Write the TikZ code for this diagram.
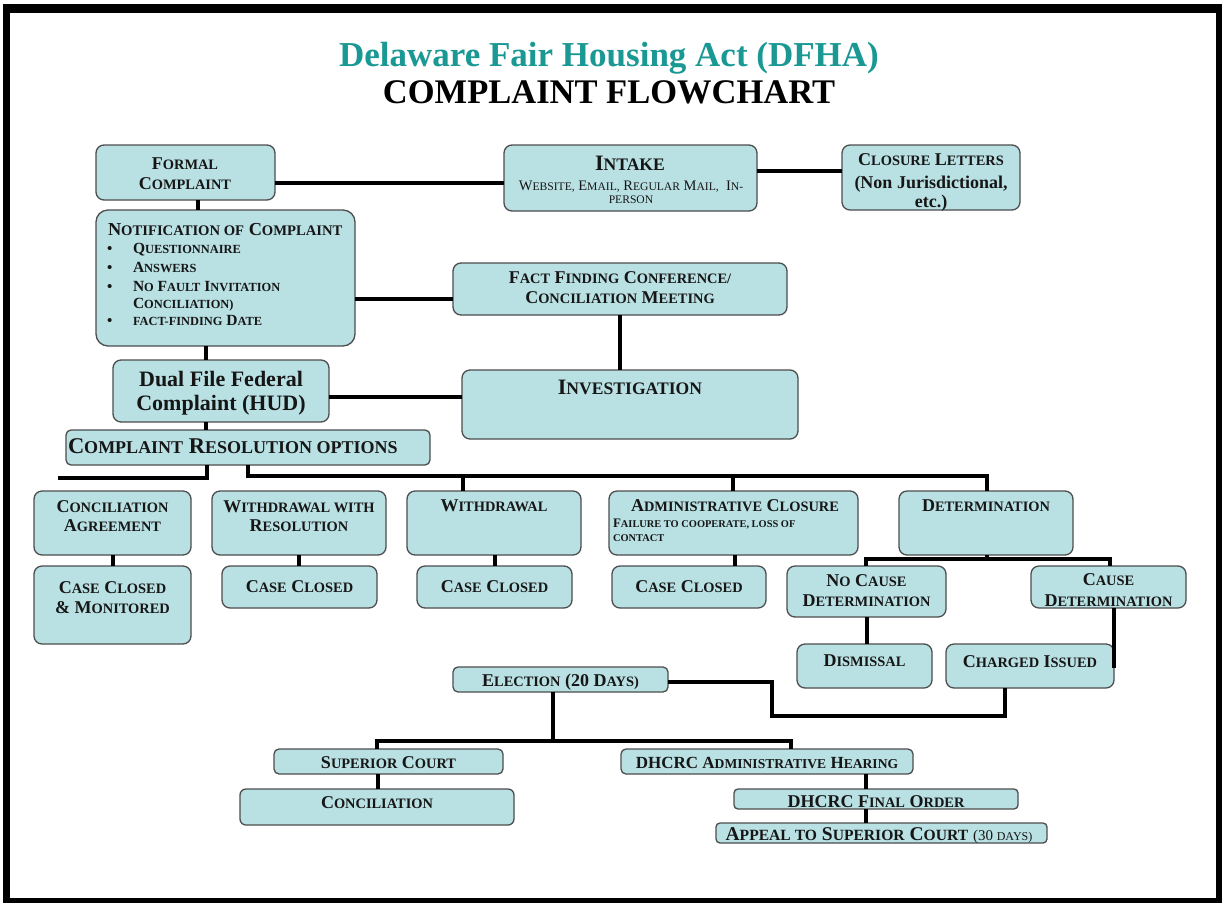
\documentclass[tikz,border=0pt]{standalone}
\usepackage{fontspec}
\setmainfont{Liberation Serif}
\makeatletter
\newcommand\sm[1]{{\fontsize{\fpeval{0.8*\f@size}}{0}\selectfont #1}}
\makeatother
\definecolor{boxfill}{HTML}{B9E0E3}
\definecolor{boxline}{HTML}{4D4D4D}
\definecolor{tealtitle}{RGB}{26,152,148}
\definecolor{ink}{HTML}{161616}
\tikzset{
  box/.style={draw=boxline, line width=1.3pt, fill=boxfill, rounded corners=8pt,
    inner sep=0pt, outer sep=0pt, anchor=north west},
  txt/.style={anchor=base, inner sep=0pt, outer sep=0pt, text=ink,
    font=\bfseries\fontsize{18}{20}\selectfont},
  bigtxt/.style={font=\bfseries\fontsize{22}{24}\selectfont},
  bul/.style={anchor=base west, font=\bfseries\fontsize{15.5}{17}\selectfont},
  dot/.style={anchor=base west, font=\bfseries\fontsize{15}{17}\selectfont},
  con/.style={line width=4pt, draw=black},
}
\newcommand\bx[6][]{\node[box,#1, minimum width={(#5-#3)*1pt}, minimum height={(#6-#4)*1pt}] (#2) at (#3,#4) {};}
\newcommand\tx[4][]{\node[txt,#1] (#2) at (#3) {#4};}
\begin{document}
\begin{tikzpicture}[x=1pt,y=-1pt]
\useasboundingbox (0,0) rectangle (1223,903);
\fill[white] (0,0) rectangle (1223,903);
\fill[black] (3,4) rectangle (1222,903);
\fill[white] (10,13) rectangle (1216,898);

% titles
\node[anchor=base, inner sep=0pt, text=tealtitle, font=\bfseries\fontsize{35}{40}\selectfont] (title1) at (609,66) {Delaware Fair Housing Act (DFHA)};
\node[anchor=base, inner sep=0pt, text=black, font=\bfseries\fontsize{34.5}{40}\selectfont] (title2) at (609,103) {COMPLAINT FLOWCHART};

% boxes
\bx{formal}{96}{145}{275}{200}
\bx{intake}{504}{145}{757}{211}
\bx{closure}{842}{145}{1020}{210}
\bx[rounded corners=12pt]{notif}{96}{210}{355}{346}
\bx{ff}{453}{263}{787}{315}
\bx{dual}{113}{360}{329}{422}
\bx{inv}{462}{370}{798}{439}
\bx[rounded corners=5pt]{cro}{66}{430}{430}{465}
\bx{ca}{34}{491}{191}{555}
\bx{ccm}{34}{566}{191}{644}
\bx{wwr}{212}{491}{386}{555}
\bx{cc1}{222}{566}{377}{608}
\bx{wd}{407}{491}{581}{555}
\bx{cc2}{417}{566}{572}{608}
\bx{adm}{609}{491}{858}{555}
\bx{cc3}{612}{566}{766}{608}
\bx{det}{899}{491}{1073}{555}
\bx{nocause}{787}{566}{946}{617}
\bx{cause}{1031}{566}{1186}{608}
\bx{dism}{797}{644}{932}{688}
\bx{charged}{946}{644}{1114}{688}
\bx[rounded corners=5pt]{elec}{453}{667}{668}{692}
\bx[rounded corners=5pt]{sc}{274}{749}{503}{774}
\bx[rounded corners=5pt]{ah}{621}{749}{913}{774}
\bx[rounded corners=6pt]{conc}{240}{789}{514}{825}
\bx[rounded corners=4pt]{fo}{734}{789}{1018}{809}
\bx[rounded corners=4pt]{appeal}{716}{823}{1047}{843}

% connectors
\draw[con] (formal.east |- 0,183) -- (intake.west |- 0,183);
\draw[con] (intake.east |- 0,171) -- (closure.west |- 0,171);
\draw[con] (formal.south -| 198,0) -- (notif.north -| 198,0);
\draw[con] (notif.east |- 0,299) -- (ff.west |- 0,299);
\draw[con] (ff.south -| 620,0) -- (inv.north -| 620,0);
\draw[con] (notif.south -| 206,0) -- (dual.north -| 206,0);
\draw[con] (dual.east |- 0,397) -- (inv.west |- 0,397);
\draw[con] (dual.south -| 206,0) -- (cro.north -| 206,0);
\coordinate (busL) at (58,478);
\coordinate (busR) at (987,476);
\draw[con] (cro.south -| 207,0) |- (busL);
\draw[con] (cro.south -| 248,0) |- (busR) -- (det.north -| busR);
\draw[con] (wd.north -| 463,0) -- (busR -| 463,0);
\draw[con] (adm.north -| 733,0) -- (busR -| 733,0);
\draw[con] (ca.south -| 113,0) -- (ccm.north -| 113,0);
\draw[con] (wwr.south -| 299,0) -- (cc1.north -| 299,0);
\draw[con] (wd.south -| 495,0) -- (cc2.north -| 495,0);
\draw[con] (adm.south -| 735,0) -- (cc3.north -| 735,0);
\coordinate (detbus) at (987,559);
\draw[con] (det.south -| detbus) -- (detbus);
\draw[con] (nocause.north -| 866,0) |- (detbus) -| (cause.north -| 1110,0);
\draw[con] (nocause.south -| 867,0) -- (dism.north -| 867,0);
\draw[con] (cause.south -| charged.east) -- ([yshift=-2pt]charged.east);
\coordinate (elbow) at (772,716);
\draw[con] (charged.south -| 1005,0) |- (elbow) |- (elec.east |- 0,682);
\coordinate (elbus) at (553,741);
\draw[con] (elec.south -| elbus) -- (elbus);
\draw[con] (sc.north -| 377,0) |- (elbus) -| (ah.north -| 791,0);
\draw[con] (sc.south -| 378,0) -- (conc.north -| 378,0);
\draw[con] (ah.south -| 866,0) -- (fo.north -| 866,0);
\draw[con] (fo.south -| 866,0) -- (appeal.north -| 866,0);

% texts
\tx{tFormal1}{185,169}{F\sm{ORMAL}}
\tx{tFormal2}{185,189}{C\sm{OMPLAINT}}
\tx[bigtxt]{tIntake1}{630,170}{I\sm{NTAKE}}
\tx[font=\fontsize{14.5}{16}\selectfont]{tIntake2}{631,190}{W\sm{EBSITE,} E\sm{MAIL,} R\sm{EGULAR} M\sm{AIL,}\ \ I\sm{N-}}
\tx[font=\fontsize{14.5}{16}\selectfont]{tIntake3}{631,203}{\sm{PERSON}}
\tx{tClos1}{931,165}{C\sm{LOSURE} L\sm{ETTERS}}
\tx{tClos2}{931,188}{(Non Jurisdictional,}
\tx{tClos3}{931,207}{etc.)}
\tx[anchor=base west, font=\bfseries\fontsize{18.3}{20}\selectfont]{tNot}{108,235}{N\sm{OTIFICATION OF} C\sm{OMPLAINT}}
\tx[dot]{b1}{107,253}{•}
\tx[dot]{b2}{107,272}{•}
\tx[dot]{b3}{107,291}{•}
\tx[dot]{b5}{107,325}{•}
\tx[bul]{i1}{133,253}{Q\sm{UESTIONNAIRE}}
\tx[bul]{i2}{133,272}{A\sm{NSWERS}}
\tx[bul]{i3}{133,291}{N\sm{O} F\sm{AULT} I\sm{NVITATION}}
\tx[bul]{i4}{133,308}{C\sm{ONCILIATION)}}
\tx[bul]{i5}{133,325}{\sm{FACT-FINDING} D\sm{ATE}}
\tx{tFF1}{620,283}{F\sm{ACT} F\sm{INDING} C\sm{ONFERENCE/}}
\tx{tFF2}{620,303}{C\sm{ONCILIATION} M\sm{EETING}}
\tx[bigtxt]{tDual1}{221,386}{Dual File Federal}
\tx[bigtxt]{tDual2}{221,410}{Complaint (HUD)}
\tx[bigtxt]{tInv}{630,394}{I\sm{NVESTIGATION}}
\tx[font=\bfseries\fontsize{22.5}{24}\selectfont, anchor=base west]{tCro}{68,453}{C\sm{OMPLAINT} R\sm{ESOLUTION OPTIONS}}
\tx{tCA1}{112.5,512}{C\sm{ONCILIATION}}
\tx{tCA2}{112.5,531}{A\sm{GREEMENT}}
\tx{tCCM1}{112.5,593}{C\sm{ASE} C\sm{LOSED}}
\tx{tCCM2}{112.5,613}{\& M\sm{ONITORED}}
\tx{tW1}{299,512}{W\sm{ITHDRAWAL WITH}}
\tx{tW2}{299,531}{R\sm{ESOLUTION}}
\tx{tCC1}{299.5,592}{C\sm{ASE} C\sm{LOSED}}
\tx{tWD}{494,511}{W\sm{ITHDRAWAL}}
\tx{tCC2}{494.5,592}{C\sm{ASE} C\sm{LOSED}}
\tx{tAdm1}{735,511}{A\sm{DMINISTRATIVE} C\sm{LOSURE}}
\tx[anchor=base west, font=\bfseries\fontsize{13}{15}\selectfont]{tAdm2}{613,527}{F\sm{AILURE TO COOPERATE, LOSS OF}}
\tx[anchor=base west, font=\bfseries\fontsize{13}{15}\selectfont]{tAdm3}{613,541}{\sm{CONTACT}}
\tx{tCC3}{689,592}{C\sm{ASE} C\sm{LOSED}}
\tx{tDet}{986,511}{D\sm{ETERMINATION}}
\tx{tNC1}{866.5,586}{N\sm{O} C\sm{AUSE}}
\tx{tNC2}{866.5,606}{D\sm{ETERMINATION}}
\tx{tC1}{1108.5,585}{C\sm{AUSE}}
\tx{tC2}{1108.5,606}{D\sm{ETERMINATION}}
\tx{tDis}{864.5,666}{D\sm{ISMISSAL}}
\tx{tCh}{1030,667}{C\sm{HARGED} I\sm{SSUED}}
\tx{tEl}{560.5,686}{E\sm{LECTION} (20 D\sm{AYS)}}
\tx{tSC}{388.5,768}{S\sm{UPERIOR} C\sm{OURT}}
\tx[font=\bfseries\fontsize{17}{20}\selectfont]{tAH}{767,768}{DHCRC A\sm{DMINISTRATIVE} H\sm{EARING}}
\tx{tConc}{377,808}{C\sm{ONCILIATION}}
\tx{tFO}{876,807}{DHCRC F\sm{INAL} O\sm{RDER}}
\tx[font=\bfseries\fontsize{19.5}{21}\selectfont]{tAp}{879,840}{A\sm{PPEAL TO} S\sm{UPERIOR} C\sm{OURT} {\mdseries\fontsize{15}{16}\selectfont (30 \sm{DAYS)}}}
\end{tikzpicture}
\end{document}
